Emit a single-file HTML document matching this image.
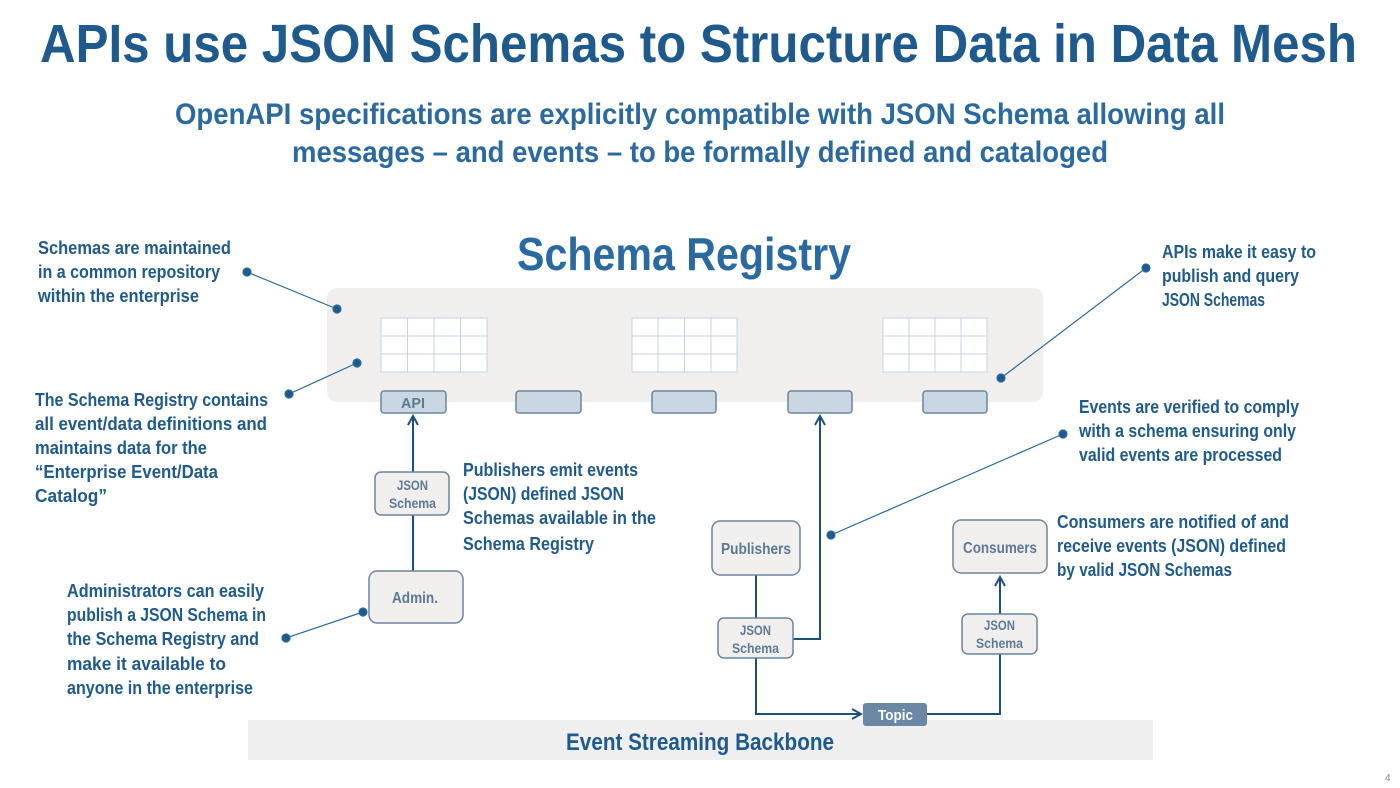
<!DOCTYPE html>
<html><head><meta charset="utf-8"><style>
html,body{margin:0;padding:0;background:#fff;}
svg{display:block;}
text{font-family:"Liberation Sans Narrow","Liberation Sans",sans-serif;font-weight:bold;}
</style></head><body>
<svg width="1400" height="788" viewBox="0 0 1400 788" xmlns="http://www.w3.org/2000/svg">
<defs>
<marker id="ar" markerWidth="12" markerHeight="12" refX="10" refY="6" orient="auto" markerUnits="userSpaceOnUse">
<path d="M1,1 L10,6 L1,11" fill="none" stroke="#1b4f7e" stroke-width="2"/>
</marker>
</defs>
<text x="40" y="62" font-size="54" fill="#1f5a8c" textLength="1317" lengthAdjust="spacingAndGlyphs">APIs use JSON Schemas to Structure Data in Data Mesh</text>
<text x="175" y="124" font-size="30" fill="#2a6aa0" textLength="1050" lengthAdjust="spacingAndGlyphs">OpenAPI specifications are explicitly compatible with JSON Schema allowing all</text>
<text x="292" y="162" font-size="30" fill="#2a6aa0" textLength="816" lengthAdjust="spacingAndGlyphs">messages – and events – to be formally defined and cataloged</text>
<text x="517" y="270" font-size="46" fill="#2a6aa0" textLength="334" lengthAdjust="spacingAndGlyphs">Schema Registry</text>

<rect x="327" y="288" width="716" height="114" rx="10" fill="#f0efee"/>
<g fill="#fff" stroke="#c5d3e0" stroke-width="1">
<rect x="381" y="318" width="106" height="54"/><path d="M407.5 318V372M434 318V372M460.5 318V372M381 336H487M381 354H487"/>
<rect x="632" y="318" width="105" height="54"/><path d="M658 318V372M684.5 318V372M711 318V372M632 336H737M632 354H737"/>
<rect x="883" y="318" width="104" height="54"/><path d="M909 318V372M935 318V372M961 318V372M883 336H987M883 354H987"/>
</g>
<g fill="#c9d7e2" stroke="#6a869f" stroke-width="1.5">
<rect x="381" y="391" width="65" height="22" rx="3"/>
<rect x="516" y="391" width="65" height="22" rx="3"/>
<rect x="652" y="391" width="64" height="22" rx="3"/>
<rect x="788" y="391" width="64" height="22" rx="3"/>
<rect x="923" y="391" width="64" height="22" rx="3"/>
</g>
<text x="401" y="408" font-size="15" fill="#5c7a95" textLength="24" lengthAdjust="spacingAndGlyphs">API</text>

<g font-size="18" fill="#1f5a8c" lengthAdjust="spacingAndGlyphs">
<text x="38" y="254" textLength="193" lengthAdjust="spacingAndGlyphs">Schemas are maintained</text>
<text x="38" y="278" textLength="182" lengthAdjust="spacingAndGlyphs">in a common repository</text>
<text x="38" y="302" textLength="161" lengthAdjust="spacingAndGlyphs">within the enterprise</text>
<text x="35" y="406" textLength="233" lengthAdjust="spacingAndGlyphs">The Schema Registry contains</text>
<text x="35" y="430" textLength="232" lengthAdjust="spacingAndGlyphs">all event/data definitions and</text>
<text x="35" y="454" textLength="172" lengthAdjust="spacingAndGlyphs">maintains data for the</text>
<text x="35" y="478" textLength="183" lengthAdjust="spacingAndGlyphs">“Enterprise Event/Data</text>
<text x="35" y="502" textLength="72" lengthAdjust="spacingAndGlyphs">Catalog”</text>
<text x="67" y="597" textLength="197" lengthAdjust="spacingAndGlyphs">Administrators can easily</text>
<text x="67" y="621" textLength="199" lengthAdjust="spacingAndGlyphs">publish a JSON Schema in</text>
<text x="67" y="645" textLength="192" lengthAdjust="spacingAndGlyphs">the Schema Registry and</text>
<text x="67" y="670" textLength="159" lengthAdjust="spacingAndGlyphs">make it available to</text>
<text x="67" y="694" textLength="186" lengthAdjust="spacingAndGlyphs">anyone in the enterprise</text>
<text x="463" y="476" textLength="175" lengthAdjust="spacingAndGlyphs">Publishers emit events</text>
<text x="463" y="500" textLength="161" lengthAdjust="spacingAndGlyphs">(JSON) defined JSON</text>
<text x="463" y="524" textLength="193" lengthAdjust="spacingAndGlyphs">Schemas available in the</text>
<text x="463" y="550" textLength="131" lengthAdjust="spacingAndGlyphs">Schema Registry</text>
<text x="1162" y="258" textLength="154" lengthAdjust="spacingAndGlyphs">APIs make it easy to</text>
<text x="1162" y="282" textLength="137" lengthAdjust="spacingAndGlyphs">publish and query</text>
<text x="1162" y="306" textLength="103" lengthAdjust="spacingAndGlyphs">JSON Schemas</text>
<text x="1079" y="413" textLength="220" lengthAdjust="spacingAndGlyphs">Events are verified to comply</text>
<text x="1079" y="437" textLength="217" lengthAdjust="spacingAndGlyphs">with a schema ensuring only</text>
<text x="1079" y="461" textLength="203" lengthAdjust="spacingAndGlyphs">valid events are processed</text>
<text x="1057" y="528" textLength="232" lengthAdjust="spacingAndGlyphs">Consumers are notified of and</text>
<text x="1057" y="552" textLength="229" lengthAdjust="spacingAndGlyphs">receive events (JSON) defined</text>
<text x="1057" y="576" textLength="175" lengthAdjust="spacingAndGlyphs">by valid JSON Schemas</text>
</g>

<g stroke="#2a6aa0" stroke-width="1.2" fill="#1f5a8c">
<line x1="247" y1="272" x2="337" y2="309"/><circle cx="247" cy="272" r="4"/><circle cx="337" cy="309" r="4"/>
<line x1="289" y1="394" x2="357" y2="363"/><circle cx="289" cy="394" r="4"/><circle cx="357" cy="363" r="4"/>
<line x1="286" y1="638" x2="363" y2="612"/><circle cx="286" cy="638" r="4"/><circle cx="363" cy="612" r="4"/>
<line x1="1146" y1="268" x2="1001" y2="378"/><circle cx="1146" cy="268" r="4"/><circle cx="1001" cy="378" r="4"/>
<line x1="1063" y1="434" x2="831" y2="535"/><circle cx="1063" cy="434" r="4"/><circle cx="831" cy="535" r="4"/>
</g>

<rect x="248" y="720" width="905" height="40" fill="#efefef"/>
<text x="566" y="750" font-size="24" fill="#1f5a8c" textLength="268" lengthAdjust="spacingAndGlyphs">Event Streaming Backbone</text>

<g fill="none" stroke="#1b4f7e" stroke-width="2">
<line x1="413" y1="571" x2="413" y2="416" marker-end="url(#ar)"/>
<line x1="756" y1="575" x2="756" y2="618"/>
<polyline points="793,639 820,639 820,416" marker-end="url(#ar)"/>
<polyline points="756,658 756,714 861,714" marker-end="url(#ar)"/>
<polyline points="927,714 1000,714 1000,654"/>
<line x1="1000" y1="614" x2="1000" y2="577" marker-end="url(#ar)"/>
</g>

<g fill="#f0efee" stroke="#6a869f" stroke-width="1.5">
<rect x="375" y="472" width="74" height="43" rx="6"/>
<rect x="369" y="571" width="94" height="52" rx="8"/>
<rect x="712" y="521" width="88" height="54" rx="8"/>
<rect x="718" y="618" width="75" height="40" rx="6"/>
<rect x="962" y="614" width="75" height="40" rx="6"/>
<rect x="953" y="520" width="94" height="53" rx="8"/>
</g>
<rect x="863" y="703" width="64" height="23" rx="3" fill="#6a88a3"/>
<g font-size="14" fill="#5c7a95">
<text x="397" y="490" textLength="31" lengthAdjust="spacingAndGlyphs">JSON</text><text x="389" y="508" textLength="47" lengthAdjust="spacingAndGlyphs">Schema</text>
<text x="740" y="635" textLength="31" lengthAdjust="spacingAndGlyphs">JSON</text><text x="732" y="653" textLength="47" lengthAdjust="spacingAndGlyphs">Schema</text>
<text x="984" y="630" textLength="31" lengthAdjust="spacingAndGlyphs">JSON</text><text x="976" y="648" textLength="47" lengthAdjust="spacingAndGlyphs">Schema</text>
</g>
<g font-size="16" fill="#5c7a95">
<text x="392" y="603" textLength="46" lengthAdjust="spacingAndGlyphs">Admin.</text>
<text x="721" y="554" textLength="70" lengthAdjust="spacingAndGlyphs">Publishers</text>
<text x="963" y="553" textLength="74" lengthAdjust="spacingAndGlyphs">Consumers</text>
</g>
<text x="878" y="720" font-size="15" fill="#fff" textLength="35" lengthAdjust="spacingAndGlyphs">Topic</text>
<text x="1385" y="781" font-size="10" fill="#888" style="font-weight:normal">4</text>
</svg>
</body></html>
